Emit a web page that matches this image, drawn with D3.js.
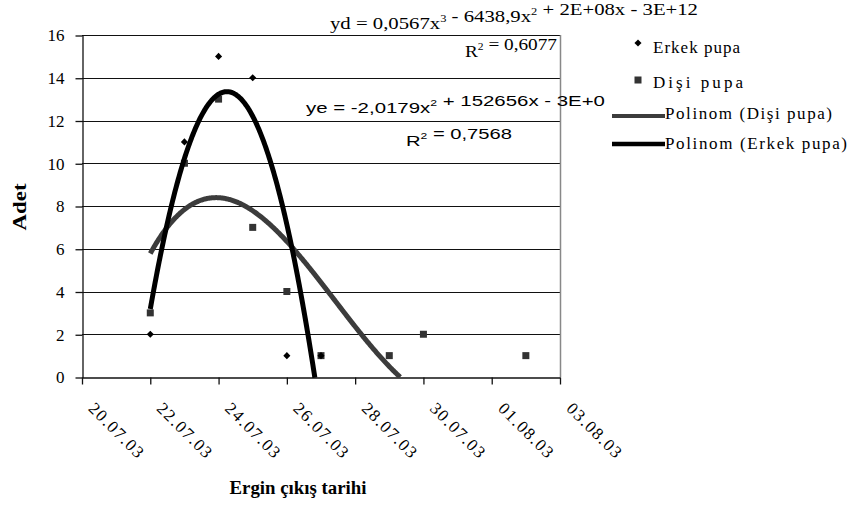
<!DOCTYPE html>
<html>
<head>
<meta charset="utf-8">
<script src="https://cdn.jsdelivr.net/npm/d3@7"></script>
<style>
  body { margin: 0; background: #fff; }
  svg text { fill: #000; }
</style>
</head>
<body>
<script>
// data
const tickLabels = ['20.07.03', '22.07.03', '24.07.03', '26.07.03', '28.07.03', '30.07.03', '01.08.03', '03.08.03'];
const yTicks = [0, 2, 4, 6, 8, 10, 12, 14, 16];

const erkekDates = ['22.07.03', '23.07.03', '24.07.03', '25.07.03', '26.07.03', '27.07.03'];
const erkekValues = [2, 11, 15, 14, 1, 1];

// 22-24.07 squares sit under the black trendline
const disiDates = ['22.07.03', '23.07.03', '24.07.03', '25.07.03', '26.07.03', '27.07.03', '29.07.03', '30.07.03', '02.08.03'];
const disiValues = [3, 10, 13, 7, 4, 1, 1, 2, 1];

const width = 850, height = 509;
const margin = { left: 82, right: 290, top: 35, bottom: 132 };

const parse = d3.utcParse('%d.%m.%y');
const fmt = d3.utcFormat('%d.%m.%y');
const t0 = parse(tickLabels[0]);
const dayOf = s => (parse(s) - t0) / 864e5;
const dateOf = d => new Date(t0.getTime() + d * 864e5);

const svg = d3.select('body').append('svg')
  .attr('width', width)
  .attr('height', height);

const x = d3.scaleUtc()
  .domain([t0, parse(tickLabels[tickLabels.length - 1])])
  .range([margin.left, width - margin.right]);

const y = d3.scaleLinear()
  .domain([0, 16])
  .range([height - margin.bottom, margin.top]);

const serif = '"Liberation Serif", "Times New Roman", serif';
const sans = '"Liberation Sans", Arial, sans-serif';

// gridlines
svg.append('g')
  .selectAll('line')
  .data(yTicks.filter(v => v > 0))
  .join('line')
  .attr('x1', x.range()[0])
  .attr('x2', x.range()[1])
  .attr('y1', d => Math.round(y(d)) + 0.5)
  .attr('y2', d => Math.round(y(d)) + 0.5)
  .attr('stroke', '#111')
  .attr('stroke-width', 1.2);

// right border of plot area
svg.append('line')
  .attr('x1', x.range()[1] + 0.5)
  .attr('x2', x.range()[1] + 0.5)
  .attr('y1', y(16))
  .attr('y2', y(0))
  .attr('stroke', '#888')
  .attr('stroke-width', 1.5);

// axes
const yAxis = svg.append('g')
  .attr('transform', `translate(${margin.left + 0.5},0.5)`)
  .call(d3.axisLeft(y).tickValues(yTicks).tickSize(7).tickSizeOuter(0).tickPadding(11));
yAxis.selectAll('text')
  .style('font-family', serif)
  .style('font-size', '17px');

const xAxis = svg.append('g')
  .attr('transform', `translate(0,${Math.round(y(0)) + 0.5})`)
  .call(d3.axisBottom(x).tickValues(tickLabels.map(parse)).tickFormat(fmt).tickSize(7).tickSizeOuter(0));
xAxis.selectAll('text')
  .attr('x', 0).attr('y', 0).attr('dy', 0)
  .attr('text-anchor', 'start')
  .attr('transform', 'translate(5,32) rotate(45)')
  .style('font-family', serif)
  .style('font-size', '17px')
  .style('letter-spacing', '1.5px');
svg.selectAll('.domain').attr('stroke', '#111').attr('stroke-width', 1.3);
svg.selectAll('.tick line').attr('stroke', '#111').attr('stroke-width', 1.3);

// least squares polynomial trendline, as Excel draws it
function polyFit(xs, ys, deg) {
  const n = deg + 1;
  const A = Array.from({ length: n }, () => new Array(n + 1).fill(0));
  xs.forEach((xv, k) => {
    for (let i = 0; i < n; i++) {
      for (let j = 0; j < n; j++) A[i][j] += Math.pow(xv, i + j);
      A[i][n] += ys[k] * Math.pow(xv, i);
    }
  });
  for (let i = 0; i < n; i++) {
    let p = i;
    for (let r = i + 1; r < n; r++) if (Math.abs(A[r][i]) > Math.abs(A[p][i])) p = r;
    [A[i], A[p]] = [A[p], A[i]];
    for (let r = 0; r < n; r++) {
      if (r === i) continue;
      const f = A[r][i] / A[i][i];
      for (let c = i; c <= n; c++) A[r][c] -= f * A[i][c];
    }
  }
  return A.map((row, i) => row[n] / row[i]);
}
const polyVal = (c, xv) => c.reduce((s, a, i) => s + a * Math.pow(xv, i), 0);

function trend(dates, values, deg) {
  const xs = dates.map(dayOf);
  const c = polyFit(xs, values, deg);
  const pts = d3.range(d3.min(xs), d3.max(xs) + 0.001, 0.02).map(d => [d, polyVal(c, d)]);
  // the line stops where it leaves the plot at the bottom
  const cut = pts.findIndex(p => p[1] < 0);
  return cut < 0 ? pts : pts.slice(0, cut + 1);
}

svg.append('clipPath').attr('id', 'plot')
  .append('rect')
  .attr('x', x.range()[0]).attr('y', y(16))
  .attr('width', x.range()[1] - x.range()[0])
  .attr('height', y(0) - y(16) + 1);

const line = d3.line().x(d => x(dateOf(d[0]))).y(d => y(d[1]));

const marks = svg.append('g').attr('clip-path', 'url(#plot)');

// Dişi markers (squares)
marks.selectAll('rect.disi')
  .data(disiDates.map((d, i) => [parse(d), disiValues[i]]))
  .join('rect')
  .attr('class', 'disi')
  .attr('x', d => x(d[0]) - 3.5)
  .attr('y', d => y(d[1]) - 3.5)
  .attr('width', 7).attr('height', 7)
  .attr('fill', '#333');

// Erkek markers (diamonds)
marks.selectAll('path.erkek')
  .data(erkekDates.map((d, i) => [parse(d), erkekValues[i]]))
  .join('path')
  .attr('class', 'erkek')
  .attr('d', d3.symbol(d3.symbolDiamond2, 32))
  .attr('transform', d => `translate(${x(d[0])},${y(d[1])})`)
  .attr('fill', '#000');

marks.append('path')
  .attr('d', line(trend(disiDates, disiValues, 3)))
  .attr('fill', 'none')
  .attr('stroke', '#3c3c3c')
  .attr('stroke-width', 5);

marks.append('path')
  .attr('d', line(trend(erkekDates, erkekValues, 2)))
  .attr('fill', 'none')
  .attr('stroke', '#000')
  .attr('stroke-width', 5);

// equations of the trendlines
function eqText(parts, xPos, yPos, len, family, size) {
  const t = svg.append('text')
    .attr('x', xPos).attr('y', yPos)
    .attr('textLength', len)
    .attr('lengthAdjust', 'spacingAndGlyphs')
    .style('font-family', family)
    .style('font-size', size + 'px');
  parts.forEach(p => {
    if (typeof p === 'string') t.append('tspan').text(p);
    else t.append('tspan').attr('dy', -size * 0.45).style('font-size', size * 0.6 + 'px').text(p.sup)
      .clone(false).attr('dy', size * 0.45).style('font-size', size + 'px').text('');
  });
  return t;
}

eqText(['yd = 0,0567x', { sup: '3' }, ' - 6438,9x', { sup: '2' }, ' + 2E+08x - 3E+12'], 330, 29, 368, serif, 16);
eqText(['R', { sup: '2' }, ' = 0,6077'], 465, 57, 92, serif, 16);
eqText(['ye = -2,0179x', { sup: '2' }, ' + 152656x - 3E+0'], 306, 113, 299, sans, 15);
eqText(['R', { sup: '2' }, ' = 0,7568'], 406, 146, 106, sans, 15);

// legend
const legendItems = [
  { label: 'Erkek pupa', kind: 'diamond', y: 43, base: 53, len: 87 },
  { label: 'Dişi pupa', kind: 'square', y: 80, base: 88, len: 90 },
  { label: 'Polinom (Dişi pupa)', kind: 'line', color: '#3c3c3c', w: 4, y: 116, base: 119, len: 167 },
  { label: 'Polinom (Erkek pupa)', kind: 'line', color: '#000', w: 4.5, y: 144, base: 149, len: 182 }
];
const legend = svg.append('g');
legendItems.forEach(it => {
  if (it.kind === 'diamond') {
    legend.append('path').attr('d', d3.symbol(d3.symbolDiamond2, 32)).attr('transform', `translate(638,${it.y})`);
  } else if (it.kind === 'square') {
    legend.append('rect').attr('x', 634.5).attr('y', it.y - 3.5).attr('width', 7).attr('height', 7).attr('fill', '#333');
  } else {
    legend.append('line').attr('x1', 612).attr('x2', 665).attr('y1', it.y).attr('y2', it.y)
      .attr('stroke', it.color).attr('stroke-width', it.w);
  }
  legend.append('text')
    .attr('x', it.kind === 'line' ? 665 : 653)
    .attr('y', it.base)
    .attr('textLength', it.len)
    .attr('lengthAdjust', 'spacing')
    .style('font-family', serif)
    .style('font-size', '17px')
    .text(it.label);
});

// axis titles
svg.append('text')
  .attr('transform', 'translate(26,207) rotate(-90)')
  .attr('text-anchor', 'middle')
  .attr('textLength', 47)
  .attr('lengthAdjust', 'spacingAndGlyphs')
  .style('font-family', serif)
  .style('font-size', '18px')
  .style('font-weight', 'bold')
  .text('Adet');

svg.append('text')
  .attr('x', 298).attr('y', 494)
  .attr('text-anchor', 'middle')
  .attr('textLength', 137)
  .attr('lengthAdjust', 'spacingAndGlyphs')
  .style('font-family', serif)
  .style('font-size', '18px')
  .style('font-weight', 'bold')
  .text('Ergin çıkış tarihi');
</script>
</body>
</html>
